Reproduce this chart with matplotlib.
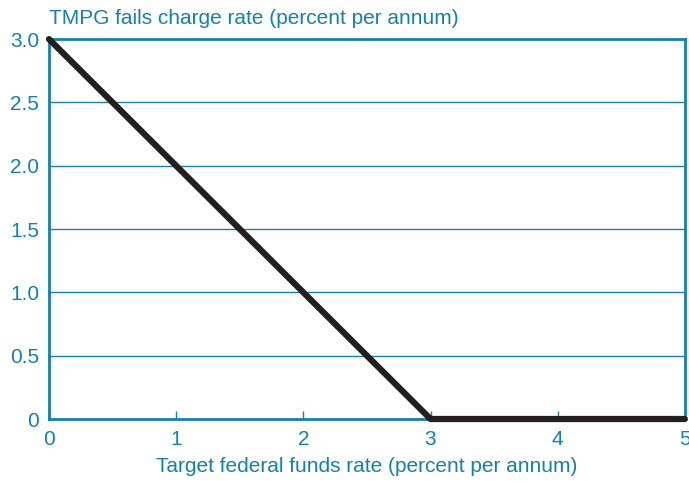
import matplotlib
matplotlib.use('Agg')
import matplotlib.pyplot as plt

# data
fed_funds = [0, 3, 5]
fails_charge = [3.0, 0, 0]
xticks = [0, 1, 2, 3, 4, 5]
yticks = [0, 0.5, 1.0, 1.5, 2.0, 2.5, 3.0]
ytick_labels = ['0', '0.5', '1.0', '1.5', '2.0', '2.5', '3.0']

teal = '#1581a6'
plt.rcParams['font.family'] = ['Liberation Sans', 'DejaVu Sans']

fig = plt.figure(figsize=(6.89, 4.83), dpi=100)
ax = fig.add_axes([0.0711, 0.1325, 0.9229, 0.7865])

for y in yticks[1:-1]:
    ax.axhline(y, color=teal, lw=1.0, zorder=1)

ax.plot(fed_funds, fails_charge, color='#231f20', lw=4.5, solid_capstyle='round', zorder=3, clip_on=False)

ax.set_xlim(0, 5)
ax.set_ylim(0, 3.0)
ax.set_xticks(xticks)
ax.set_yticks(yticks)
ax.set_yticklabels(ytick_labels)

for s in ax.spines.values():
    s.set_color(teal)
    s.set_linewidth(2)

ax.tick_params(axis='x', direction='in', length=6, width=1, color=teal, labelcolor=teal, labelsize=15, pad=8)
ax.tick_params(axis='y', length=0, labelcolor=teal, labelsize=15, pad=7)

ax.set_xlabel('Target federal funds rate (percent per annum)', color=teal, fontsize=15, labelpad=6)
fig.text(0.0711, 0.943, 'TMPG fails charge rate (percent per annum)', color=teal, fontsize=15, va='bottom')

fig.savefig('out.png', dpi=100)
